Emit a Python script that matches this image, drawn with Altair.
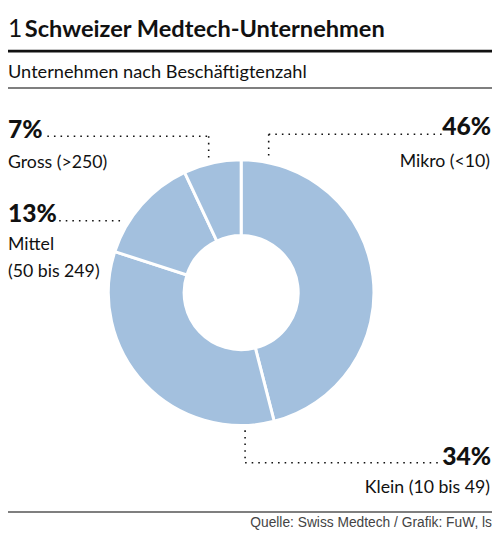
import altair as alt
import pandas as pd

# ---- data ----
categories = ["Mikro (<10)", "Klein (10 bis 49)", "Mittel\n(50 bis 249)", "Gross (>250)"]
shares = [46, 34, 13, 7]
order = [1, 2, 3, 4]

title_num = "1"
title_text = "Schweizer Medtech-Unternehmen"
subtitle_text = "Unternehmen nach Beschäftigtenzahl"
source_text = "Quelle: Swiss Medtech / Grafik: FuW, ls"

df = pd.DataFrame({"cat": categories, "share": shares, "ord": order})
df["pct"] = df["share"].astype(str) + "%"

W, H = 492, 525
COND = "Lato, Roboto, sans-serif"
BLUE = "#a3c0de"
INK = "#111111"

base = alt.Chart(df)

donut = base.mark_arc(innerRadius=58, outerRadius=135, stroke="white", strokeWidth=3).encode(
    theta=alt.Theta("share:Q", stack=True),
    order=alt.Order("ord:Q"),
    color=alt.value(BLUE),
    x=alt.value(237),
    y=alt.value(285),
)


def txt(s, x, y, size, bold=False, align="left", color=INK, font=COND):
    return alt.Chart(pd.DataFrame({"t": [s]})).mark_text(
        align=align, baseline="alphabetic", fontSize=size,
        fontWeight="bold" if bold else "normal", font=font, color=color,
    ).encode(x=alt.value(x), y=alt.value(y), text="t:N")


def hline(x1, x2, y, width=1, color=INK, dash=None):
    kw = dict(color=color, strokeWidth=width)
    if dash:
        kw["strokeDash"] = dash
        kw["strokeCap"] = "butt"
    return alt.Chart(pd.DataFrame({"a": [0]})).mark_rule(**kw).encode(
        x=alt.value(x1), x2=alt.value(x2), y=alt.value(y))


def vline(x, y1, y2, dash):
    return alt.Chart(pd.DataFrame({"a": [0]})).mark_rule(
        color=INK, strokeWidth=1.6, strokeDash=dash, strokeCap="butt").encode(
        x=alt.value(x), y=alt.value(y1), y2=alt.value(y2))


def label(cat, x, y, align, size=18):
    return base.transform_filter(alt.datum.cat == cat).mark_text(
        align=align, baseline="alphabetic", fontSize=size, font=COND, color=INK,
        lineBreak="\n", lineHeight=27,
    ).encode(x=alt.value(x), y=alt.value(y), text="cat:N")


def pct(cat, x, y, align):
    return base.transform_filter(alt.datum.cat == cat).mark_text(
        align=align, baseline="alphabetic", fontSize=25, font=COND, color=INK,
        fontWeight=900,
    ).encode(x=alt.value(x), y=alt.value(y), text="pct:N")


DOT = [1.6, 5.1]

layers = [
    donut,
    txt(title_num, 0, 25, 25),
    txt(title_text, 17, 25, 24, bold=True),
    hline(0, W, 39.5, width=3),
    txt(subtitle_text, 0, 67, 18.5),
    hline(0, W, 77, width=1.5, color="#555555"),
    # Gross
    pct(categories[3], 0, 128, "left"),
    label(categories[3], 0, 158, "left"),
    hline(40, 204, 126, width=1.6, dash=DOT),
    vline(204, 126, 152, DOT),
    # Mittel
    pct(categories[2], 0, 213, "left"),
    label(categories[2], 0, 242, "left"),
    hline(52, 117, 212, width=1.6, dash=DOT),
    # Mikro
    pct(categories[0], 491, 125, "right"),
    label(categories[0], 490, 157, "right"),
    hline(265, 441, 124, width=1.6, dash=DOT),
    vline(265, 124, 149, DOT),
    # Klein
    pct(categories[1], 491, 460, "right"),
    label(categories[1], 490, 489, "right"),
    vline(241, 425, 458, DOT),
    hline(241, 437, 458, width=1.6, dash=DOT),
    # footer
    hline(0, W, 508, width=1.5, color="#555555"),
    txt(source_text, 492, 523, 14, align="right", color="#444444",
        font="Liberation Sans, Arial, sans-serif"),
]

chart = alt.layer(*layers).properties(
    width=W, height=H, padding=0, autosize=alt.AutoSizeParams(type="none"),
).configure_view(stroke=None)

chart.save("out.html", embed_options={"renderer": "svg", "actions": False})
